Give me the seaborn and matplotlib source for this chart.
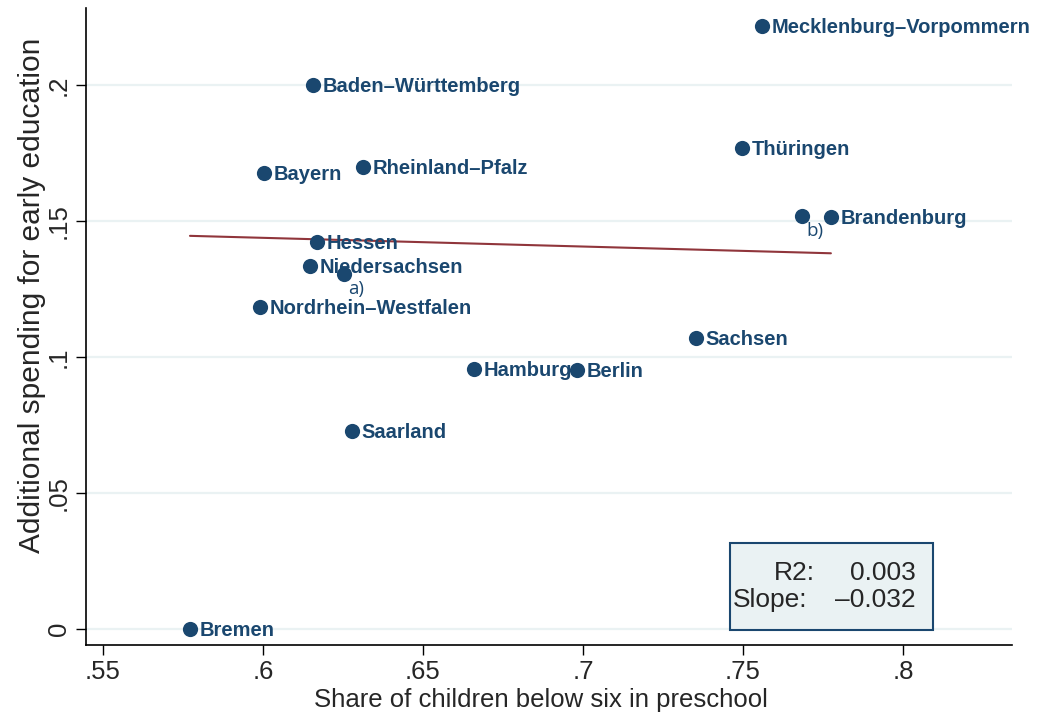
import numpy as np
import pandas as pd
import seaborn as sns
import matplotlib.pyplot as plt
from matplotlib.patches import Rectangle

sns.set_style("white")
plt.rcParams['font.family'] = ['Liberation Sans', 'DejaVu Sans']

# Daten
states = ["Mecklenburg–Vorpommern", "Baden–Württemberg", "Thüringen", "Bayern",
          "Rheinland–Pfalz", "Brandenburg", "Hessen", "Niedersachsen",
          "Nordrhein–Westfalen", "Sachsen", "Hamburg", "Berlin", "Saarland", "Bremen"]
share = [0.7559, 0.6156, 0.7497, 0.6003, 0.6313, 0.7775, 0.6169, 0.6147,
         0.5990, 0.7353, 0.6659, 0.6981, 0.6278, 0.5772]
spending = [0.2217, 0.2000, 0.1768, 0.1676, 0.1699, 0.1515, 0.1423, 0.1335,
            0.1184, 0.1070, 0.0956, 0.0952, 0.0728, 0.0000]

# Zusatzpunkte a) und b)
extra_labels = ["a)", "b)"]
extra_share = [0.6253, 0.7684]
extra_spending = [0.1305, 0.1518]

intercept = 0.163
slope = -0.032
r2 = 0.003

navy = "#1a476f"

df = pd.DataFrame({"share": share + extra_share, "spending": spending + extra_spending})

fig = plt.figure(figsize=(10.63, 7.19), dpi=100)
ax = fig.add_axes([86/1063, 1-645/719, 926/1063, 637/719])

# Gitterlinien
for yv in [0, 0.05, 0.1, 0.15, 0.2]:
    ax.axhline(yv, color="#eaf2f3", lw=1.6, zorder=0)

sns.scatterplot(data=df, x="share", y="spending", ax=ax, color=navy, s=120,
                edgecolor=navy, linewidth=0, zorder=3)

# Regressionsgerade
xs = np.array([min(share), max(share)])
fit = pd.DataFrame({"x": xs, "y": intercept + slope * xs})
sns.lineplot(data=fit, x="x", y="y", ax=ax, color="#90353b", lw=1.5, zorder=2)

for name, xv, yv in zip(states, share, spending):
    ax.annotate(name, (xv, yv), xytext=(7, -1), textcoords="offset points",
                va="center", ha="left", fontsize=14.5, fontweight="bold", color=navy)

for name, xv, yv in zip(extra_labels, extra_share, extra_spending):
    ax.annotate(name, (xv, yv), xytext=(3, -11), textcoords="offset points",
                va="center", ha="left", fontsize=13.5, color=navy,
                family=["Open Sans", "DejaVu Sans"])

ax.set_xlim(0.5447, 0.8341)
ax.set_ylim(-0.0059, 0.2283)
ax.set_xticks([0.55, 0.6, 0.65, 0.7, 0.75, 0.8])
ax.set_xticklabels([".55", ".6", ".65", ".7", ".75", ".8"])
ax.set_yticks([0, 0.05, 0.1, 0.15, 0.2])
ax.set_yticklabels(["0", ".05", ".1", ".15", ".2"], rotation=90, va="center")
ax.tick_params(axis="both", direction="out", length=7, width=1, labelsize=18.5,
               bottom=True, left=True, color="black", pad=4)

for side in ["top", "right"]:
    ax.spines[side].set_visible(False)
for side in ["left", "bottom"]:
    ax.spines[side].set_color("black")
    ax.spines[side].set_linewidth(1.2)

ax.set_xlabel("Share of children below six in preschool", fontsize=18.5)
ax.set_ylabel("Additional spending for early education", fontsize=21.5)
ax.xaxis.set_label_coords(0.491, -0.067)
ax.yaxis.set_label_coords(-0.043, 0.549)

# Statistik-Box
ax.add_patch(Rectangle((0.695, 0.0235), 0.22, 0.137, transform=ax.transAxes,
                       facecolor="#eaf2f3", edgecolor=navy, lw=1.5, zorder=4))
ax.text(0.787, 0.113, "R2:", transform=ax.transAxes, ha="right", va="center",
        fontsize=19, zorder=5)
ax.text(0.896, 0.113, f"{r2:.3f}", transform=ax.transAxes, ha="right", va="center",
        fontsize=19, zorder=5)
ax.text(0.779, 0.0706, "Slope:", transform=ax.transAxes, ha="right", va="center",
        fontsize=19, zorder=5)
ax.text(0.896, 0.0706, f"{slope:.3f}".replace("-", "–"), transform=ax.transAxes,
        ha="right", va="center", fontsize=19, zorder=5)

fig.savefig("out.png", dpi=100)
